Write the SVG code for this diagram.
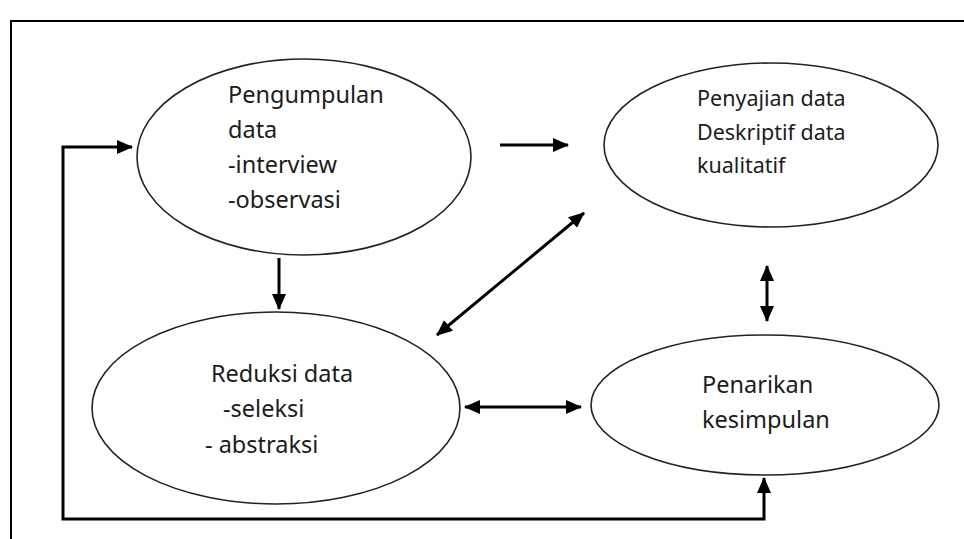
<svg xmlns="http://www.w3.org/2000/svg" width="964" height="539" viewBox="0 0 964 539">
  <style>
    .node { fill: #ffffff; stroke: #222222; stroke-width: 1.6; }
    .lbl { font-family: "Noto Sans", "Open Sans", sans-serif; fill: #1c1c1c; }
    .conn { fill: none; stroke: #000000; stroke-width: 3; }
  </style>
  <defs>
    <marker id="ah" markerUnits="userSpaceOnUse" markerWidth="16" markerHeight="14" refX="15" refY="7" orient="auto-start-reverse" viewBox="0 0 16 14">
      <path d="M0,0 L16,7 L0,14 Z" fill="#000000"/>
    </marker>
  </defs>
  <rect x="0" y="0" width="964" height="539" fill="#ffffff"/>
  <rect x="11" y="21" width="980" height="560" fill="none" stroke="#000000" stroke-width="2"/>

  <g id="node-pengumpulan">
    <ellipse class="node" cx="304" cy="157" rx="167" ry="98"/>
    <text class="lbl" font-size="23.5" x="228" y="103">Pengumpulan</text>
    <text class="lbl" font-size="23.5" x="228" y="138">data</text>
    <text class="lbl" font-size="23.5" x="228" y="173">-interview</text>
    <text class="lbl" font-size="23.5" x="228" y="208">-observasi</text>
  </g>

  <g id="node-penyajian">
    <ellipse class="node" cx="771" cy="145" rx="167" ry="82"/>
    <text class="lbl" font-size="21.5" x="697" y="106">Penyajian data</text>
    <text class="lbl" font-size="21.5" x="697" y="140">Deskriptif data</text>
    <text class="lbl" font-size="21.5" x="697" y="173">kualitatif</text>
  </g>

  <g id="node-reduksi">
    <ellipse class="node" cx="276" cy="408" rx="184" ry="96"/>
    <text class="lbl" font-size="23.5" x="211" y="382">Reduksi data</text>
    <text class="lbl" font-size="23.5" x="223" y="417">-seleksi</text>
    <text class="lbl" font-size="23.5" x="205" y="453">- abstraksi</text>
  </g>

  <g id="node-penarikan">
    <ellipse class="node" cx="765" cy="405" rx="174" ry="70"/>
    <text class="lbl" font-size="23.5" x="702" y="393">Penarikan</text>
    <text class="lbl" font-size="23.5" x="702" y="428">kesimpulan</text>
  </g>

  <g id="connectors">
    <line class="conn" x1="500" y1="145" x2="568" y2="145" marker-end="url(#ah)"/>
    <line class="conn" x1="279" y1="258" x2="279" y2="309" marker-end="url(#ah)"/>
    <line class="conn" x1="437" y1="335" x2="584" y2="213" marker-start="url(#ah)" marker-end="url(#ah)"/>
    <line class="conn" x1="767" y1="266" x2="767" y2="321" marker-start="url(#ah)" marker-end="url(#ah)"/>
    <line class="conn" x1="465" y1="407" x2="581" y2="407" marker-start="url(#ah)" marker-end="url(#ah)"/>
    <path class="conn" d="M132,147 H63 V519 H764 V478" marker-start="url(#ah)" marker-end="url(#ah)"/>
  </g>
</svg>
